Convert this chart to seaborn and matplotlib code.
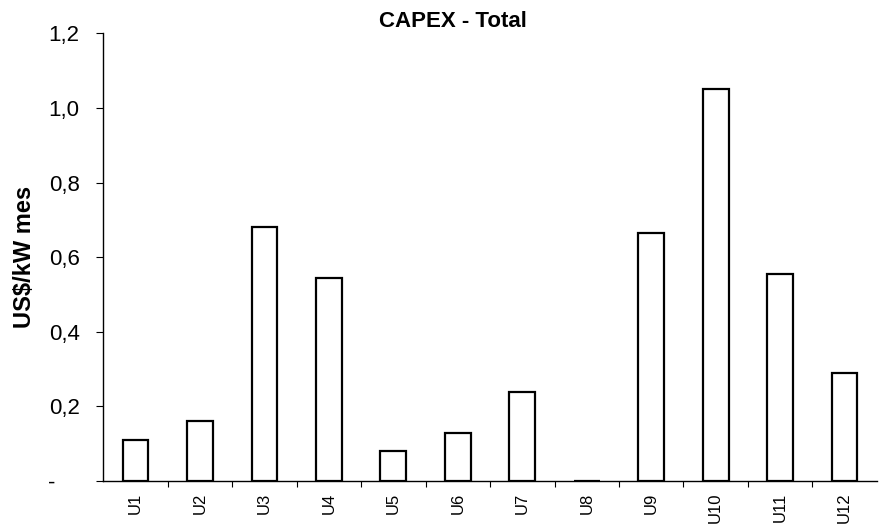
import matplotlib
matplotlib.use("Agg")
import matplotlib.pyplot as plt
import seaborn as sns
import pandas as pd

categories = ["U1", "U2", "U3", "U4", "U5", "U6", "U7", "U8", "U9", "U10", "U11", "U12"]
values = [0.11, 0.16, 0.68, 0.545, 0.08, 0.13, 0.24, 0.0, 0.665, 1.05, 0.555, 0.29]
ytick_values = [0.0, 0.2, 0.4, 0.6, 0.8, 1.0, 1.2]
ytick_labels = ["-    ", "0,2", "0,4", "0,6", "0,8", "1,0", "1,2"]
title = "CAPEX - Total"
ylabel = "US$/kW mes"

sns.set_theme(style="white")
plt.rcParams["font.family"] = ["Liberation Sans", "DejaVu Sans"]
plt.rcParams["text.color"] = "black"
plt.rcParams["axes.labelcolor"] = "black"
plt.rcParams["xtick.color"] = "black"
plt.rcParams["ytick.color"] = "black"

df = pd.DataFrame({"unit": categories, "value": values})

fig = plt.figure(figsize=(8.83, 5.27), dpi=100)
ax = fig.add_axes([0.117, 0.087, 0.876, 0.85])

sns.barplot(data=df, x="unit", y="value", order=categories, color="white",
            edgecolor="black", linewidth=1.6, width=0.4, ax=ax)

ax.set_xlim(-0.5, len(categories) - 0.5)
ax.set_ylim(0, 1.2)
ax.set_yticks(ytick_values)
ax.set_yticklabels(ytick_labels, fontsize=16)
ax.set_xticks(range(len(categories)))
ax.set_xticklabels(categories, rotation=90, fontsize=12)
ax.set_xlabel("")
ax.set_ylabel(ylabel, fontsize=17, fontweight="bold")
ax.yaxis.set_label_coords(-0.087, 0.5)

for s in ["top", "right"]:
    ax.spines[s].set_visible(False)
for s in ["left", "bottom"]:
    ax.spines[s].set_color("black")
    ax.spines[s].set_linewidth(1.0)

ax.tick_params(axis="y", which="major", direction="out", length=5, width=0.8,
               color="black", left=True, pad=12)
ax.tick_params(axis="x", which="major", length=0, pad=8)
# boundary ticks between categories
ax.set_xticks([i + 0.5 for i in range(len(categories) - 1)], minor=True)
ax.tick_params(axis="x", which="minor", direction="out", length=4, width=0.8,
               color="black", bottom=True)

fig.text(0.513, 0.959, title, ha="center", va="center", fontsize=16, fontweight="bold")

fig.savefig("out.png", dpi=100)
